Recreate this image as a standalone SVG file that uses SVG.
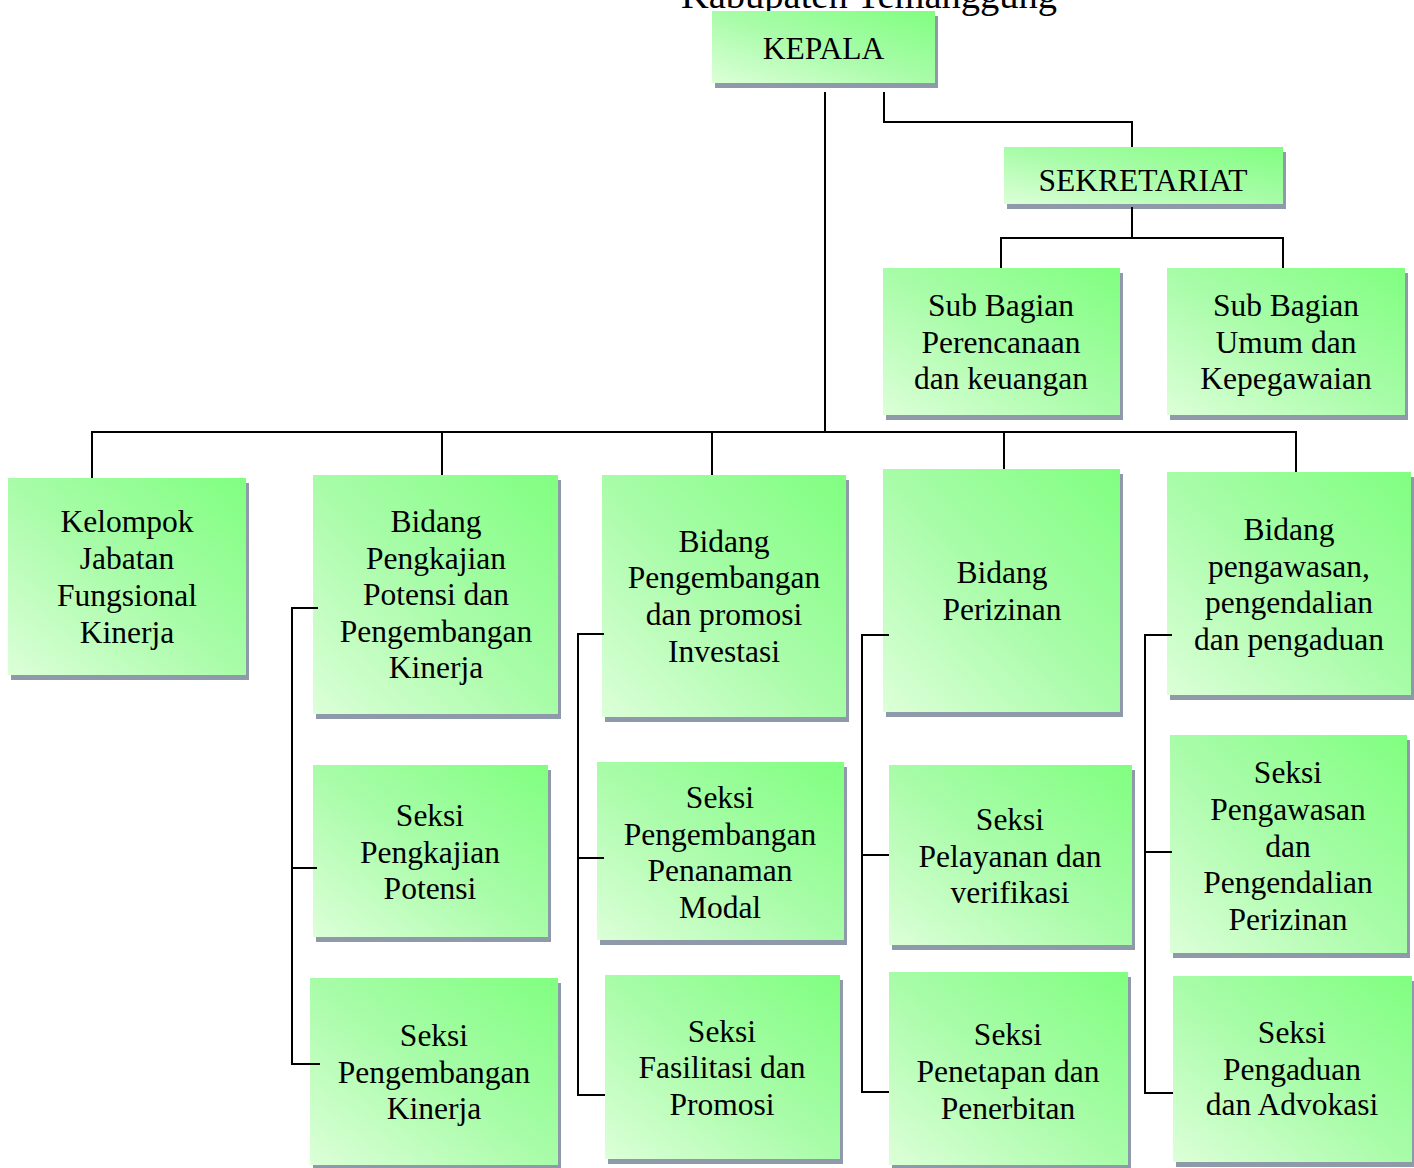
<svg xmlns="http://www.w3.org/2000/svg" width="1414" height="1168" viewBox="0 0 1414 1168">
<defs>
<linearGradient id="g" x1="1" y1="0" x2="0" y2="1">
<stop offset="0" stop-color="#80ff80"/>
<stop offset="0.5" stop-color="#a8fca8"/>
<stop offset="1" stop-color="#dcffd8"/>
</linearGradient>
</defs>
<style>
.sh{fill:#8e9aaa}
.bx{fill:url(#g)}
text{font-family:"Liberation Serif","Times New Roman",serif;font-size:31.5px;fill:#000;text-anchor:middle}
.t{font-size:38.5px}
.c{fill:none;stroke:#000;stroke-width:2}
</style>
<rect width="1414" height="1168" fill="#fff"/>
<text class="t" x="869" y="8">Kabupaten Temanggung</text>

<g id="kepala"><rect class="sh" x="715" y="16" width="223" height="72"/><rect class="bx" x="712" y="11" width="223" height="72"/><text x="823.5" y="59">KEPALA</text></g>
<g id="sekretariat"><rect class="sh" x="1007" y="152" width="279" height="57"/><rect class="bx" x="1004" y="147" width="279" height="57"/><text x="1143" y="191">SEKRETARIAT</text></g>
<g id="subbag-perencanaan"><rect class="sh" x="886" y="273" width="237" height="147"/><rect class="bx" x="883" y="268" width="237" height="147"/><text x="1001"><tspan x="1001" y="316">Sub Bagian</tspan><tspan x="1001" y="353">Perencanaan</tspan><tspan x="1001" y="389">dan keuangan</tspan></text></g>
<g id="subbag-umum"><rect class="sh" x="1170" y="273" width="238" height="147"/><rect class="bx" x="1167" y="268" width="238" height="147"/><text x="1286"><tspan x="1286" y="316">Sub Bagian</tspan><tspan x="1286" y="353">Umum dan</tspan><tspan x="1286" y="389">Kepegawaian</tspan></text></g>
<g id="kelompok"><rect class="sh" x="11" y="483" width="238" height="197"/><rect class="bx" x="8" y="478" width="238" height="197"/><text x="127"><tspan x="127" y="532">Kelompok</tspan><tspan x="127" y="569">Jabatan</tspan><tspan x="127" y="606">Fungsional</tspan><tspan x="127" y="643">Kinerja</tspan></text></g>
<g id="bidang-pengkajian"><rect class="sh" x="316" y="480" width="245" height="239"/><rect class="bx" x="313" y="475" width="245" height="239"/><text x="436"><tspan x="436" y="532">Bidang</tspan><tspan x="436" y="569">Pengkajian</tspan><tspan x="436" y="605">Potensi dan</tspan><tspan x="436" y="642">Pengembangan</tspan><tspan x="436" y="678">Kinerja</tspan></text></g>
<g id="bidang-pengembangan"><rect class="sh" x="605" y="480" width="244" height="242"/><rect class="bx" x="602" y="475" width="244" height="242"/><text x="724"><tspan x="724" y="552">Bidang</tspan><tspan x="724" y="588">Pengembangan</tspan><tspan x="724" y="625">dan promosi</tspan><tspan x="724" y="662">Investasi</tspan></text></g>
<g id="bidang-perizinan"><rect class="sh" x="886" y="474" width="237" height="243"/><rect class="bx" x="883" y="469" width="237" height="243"/><text x="1002"><tspan x="1002" y="583">Bidang</tspan><tspan x="1002" y="620">Perizinan</tspan></text></g>
<g id="bidang-pengawasan"><rect class="sh" x="1170" y="477" width="244" height="223"/><rect class="bx" x="1167" y="472" width="244" height="223"/><text x="1289"><tspan x="1289" y="540">Bidang</tspan><tspan x="1289" y="577">pengawasan,</tspan><tspan x="1289" y="613">pengendalian</tspan><tspan x="1289" y="650">dan pengaduan</tspan></text></g>
<g id="seksi-pengkajian"><rect class="sh" x="316" y="770" width="235" height="172"/><rect class="bx" x="313" y="765" width="235" height="172"/><text x="430"><tspan x="430" y="826">Seksi</tspan><tspan x="430" y="863">Pengkajian</tspan><tspan x="430" y="899">Potensi</tspan></text></g>
<g id="seksi-pengembangan-kinerja"><rect class="sh" x="313" y="983" width="248" height="187"/><rect class="bx" x="310" y="978" width="248" height="187"/><text x="434"><tspan x="434" y="1046">Seksi</tspan><tspan x="434" y="1083">Pengembangan</tspan><tspan x="434" y="1119">Kinerja</tspan></text></g>
<g id="seksi-penanaman-modal"><rect class="sh" x="600" y="767" width="247" height="178"/><rect class="bx" x="597" y="762" width="247" height="178"/><text x="720"><tspan x="720" y="808">Seksi</tspan><tspan x="720" y="845">Pengembangan</tspan><tspan x="720" y="881">Penanaman</tspan><tspan x="720" y="918">Modal</tspan></text></g>
<g id="seksi-fasilitasi"><rect class="sh" x="608" y="980" width="235" height="184"/><rect class="bx" x="605" y="975" width="235" height="184"/><text x="722"><tspan x="722" y="1042">Seksi</tspan><tspan x="722" y="1078">Fasilitasi dan</tspan><tspan x="722" y="1115">Promosi</tspan></text></g>
<g id="seksi-pelayanan"><rect class="sh" x="892" y="770" width="243" height="180"/><rect class="bx" x="889" y="765" width="243" height="180"/><text x="1010"><tspan x="1010" y="830">Seksi</tspan><tspan x="1010" y="867">Pelayanan dan</tspan><tspan x="1010" y="903">verifikasi</tspan></text></g>
<g id="seksi-penetapan"><rect class="sh" x="892" y="977" width="239" height="193"/><rect class="bx" x="889" y="972" width="239" height="193"/><text x="1008"><tspan x="1008" y="1045">Seksi</tspan><tspan x="1008" y="1082">Penetapan dan</tspan><tspan x="1008" y="1119">Penerbitan</tspan></text></g>
<g id="seksi-pengawasan"><rect class="sh" x="1173" y="740" width="237" height="218"/><rect class="bx" x="1170" y="735" width="237" height="218"/><text x="1288"><tspan x="1288" y="783">Seksi</tspan><tspan x="1288" y="820">Pengawasan</tspan><tspan x="1288" y="857">dan</tspan><tspan x="1288" y="893">Pengendalian</tspan><tspan x="1288" y="930">Perizinan</tspan></text></g>
<g id="seksi-pengaduan"><rect class="sh" x="1176" y="981" width="239" height="186"/><rect class="bx" x="1173" y="976" width="239" height="186"/><text x="1292"><tspan x="1292" y="1043">Seksi</tspan><tspan x="1292" y="1080">Pengaduan</tspan><tspan x="1292" y="1115">dan Advokasi</tspan></text></g>

<g id="connectors" class="c">
<path d="M825 92V432"/>
<path d="M884 92V122H1132V147"/>
<path d="M1132 207V238"/>
<path d="M1001 268V238H1283V268"/>
<path d="M92 478V432H1296V472"/>
<path d="M442 432V475"/>
<path d="M712 432V475"/>
<path d="M1004 432V469"/>
<path d="M318 608H292V1064H320"/>
<path d="M292 868H317"/>
<path d="M604 634H578V1095H605"/>
<path d="M578 858H604"/>
<path d="M889 635H862V1092H889"/>
<path d="M862 855H889"/>
<path d="M1172 635H1145V1093H1173"/>
<path d="M1145 852H1172"/>
</g>
</svg>
